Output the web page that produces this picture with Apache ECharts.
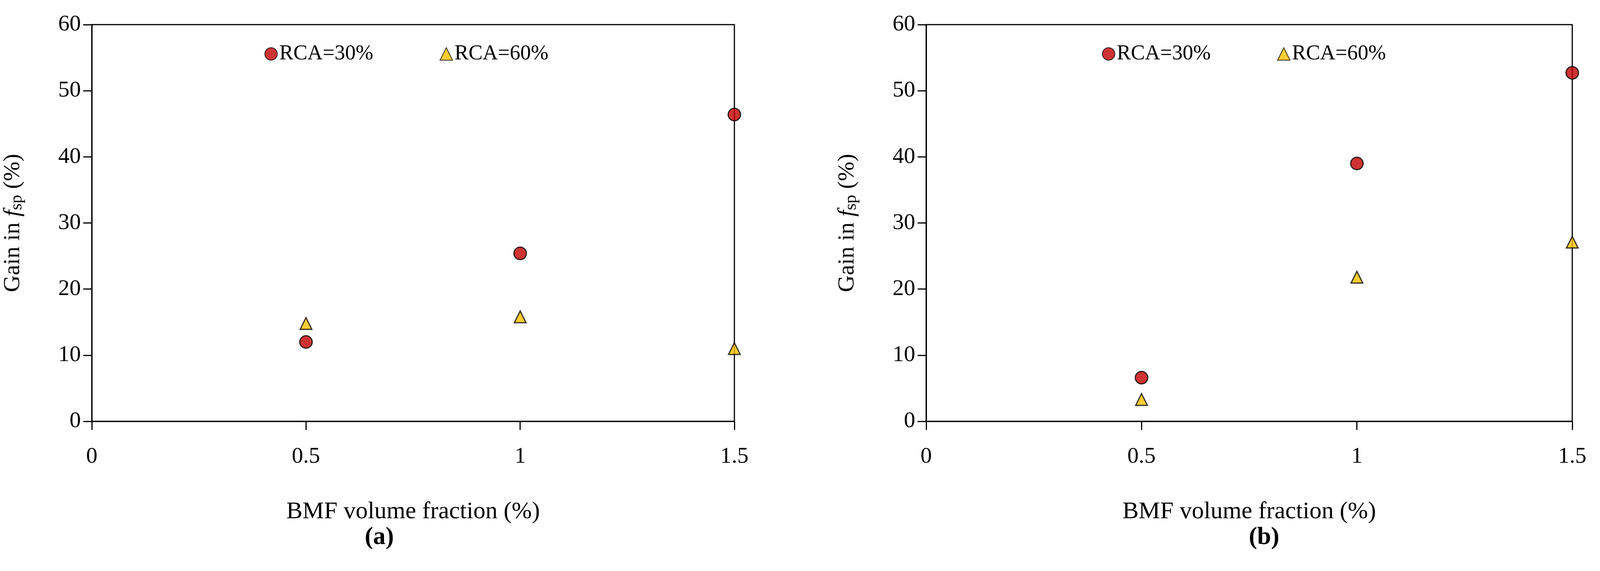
<!DOCTYPE html>
<html><head><meta charset="utf-8">
<script src="https://cdn.jsdelivr.net/npm/echarts@6/dist/echarts.min.js"></script>
<style>html,body{margin:0;background:#fff}#c{width:4168px;height:1461px}</style>
</head><body><div id="c"></div>
<script>
const xValues = [0.5, 1, 1.5];
const aRCA30 = [12.0, 25.4, 46.4];
const aRCA60 = [14.8, 15.8, 11.0];
const bRCA30 = [6.6, 39.0, 52.7];
const bRCA60 = [3.3, 21.8, 27.1];
const seriesNames = ['RCA=30%', 'RCA=60%'];
const panelLabels = ['(a)', '(b)'];

const F = '"Liberation Serif","DejaVu Serif",serif';
const chart = echarts.init(document.getElementById('c'));
const grids = [
  {left: 235, top: 63, width: 1645, height: 1015},
  {left: 2371, top: 63, width: 1654, height: 1015}
];
function xAx(i){return {type:'value',gridIndex:i,min:0,max:1.5,interval:0.5,
  axisLine:{lineStyle:{color:'#000',width:3}},axisTick:{inside:false,length:22,lineStyle:{color:'#000',width:3}},
  axisLabel:{color:'#000',fontFamily:F,fontSize:58,margin:62,formatter:v=>String(v)},
  splitLine:{show:false},name:'BMF volume fraction (%)',nameLocation:'middle',nameGap:201,
  nameTextStyle:{color:'#000',fontFamily:F,fontSize:62}};}
function yAx(i){return {type:'value',gridIndex:i,min:0,max:60,interval:10,
  axisLine:{lineStyle:{color:'#000',width:3}},axisTick:{inside:false,length:22,lineStyle:{color:'#000',width:3}},
  axisLabel:{color:'#000',fontFamily:F,fontSize:58,margin:28},splitLine:{show:false},
  name:'{n|Gain in }{i|f}{s|sp}{n| (%)}',nameLocation:'middle',nameGap:170,nameRotate:90,
  nameTextStyle:{rich:{n:{color:'#000',fontFamily:F,fontSize:60},i:{color:'#000',fontFamily:F,fontSize:60,fontStyle:'italic'},
    s:{color:'#000',fontFamily:F,fontSize:44,padding:[20,0,0,0]}}}};}
function sc(name,i,data,sym,col,size){return {name,type:'scatter',xAxisIndex:i,yAxisIndex:i,symbol:sym,symbolSize:size,
  data:xValues.map((x,k)=>[x,data[k]]),itemStyle:{color:col,borderColor:'#000',borderWidth:3}};}
const red='#c00000', yel='#ffc000';
const lg = {itemGap:170,itemWidth:32,itemHeight:32,textStyle:{fontFamily:F,fontSize:54,color:'#000'},data:seriesNames};
chart.setOption({
  animation:false,
  grid:grids.map(g=>Object.assign({show:true,borderColor:'#000',borderWidth:3,backgroundColor:'transparent'},g)),
  xAxis:[xAx(0),xAx(1)], yAxis:[yAx(0),yAx(1)],
  legend:[Object.assign({left:672,top:106},lg), Object.assign({left:2816,top:106},lg)],
  graphic:[
    {type:'text',x:971,y:1375,style:{text:panelLabels[0],font:'bold 64px '+F,fill:'#000',align:'center',verticalAlign:'middle'}},
    {type:'text',x:3236,y:1375,style:{text:panelLabels[1],font:'bold 64px '+F,fill:'#000',align:'center',verticalAlign:'middle'}}
  ],
  series:[
    sc(seriesNames[0],0,aRCA30,'circle',red,32), sc(seriesNames[1],0,aRCA60,'triangle',yel,30),
    sc(seriesNames[0],1,bRCA30,'circle',red,32), sc(seriesNames[1],1,bRCA60,'triangle',yel,30)
  ]
});
</script></body></html>
